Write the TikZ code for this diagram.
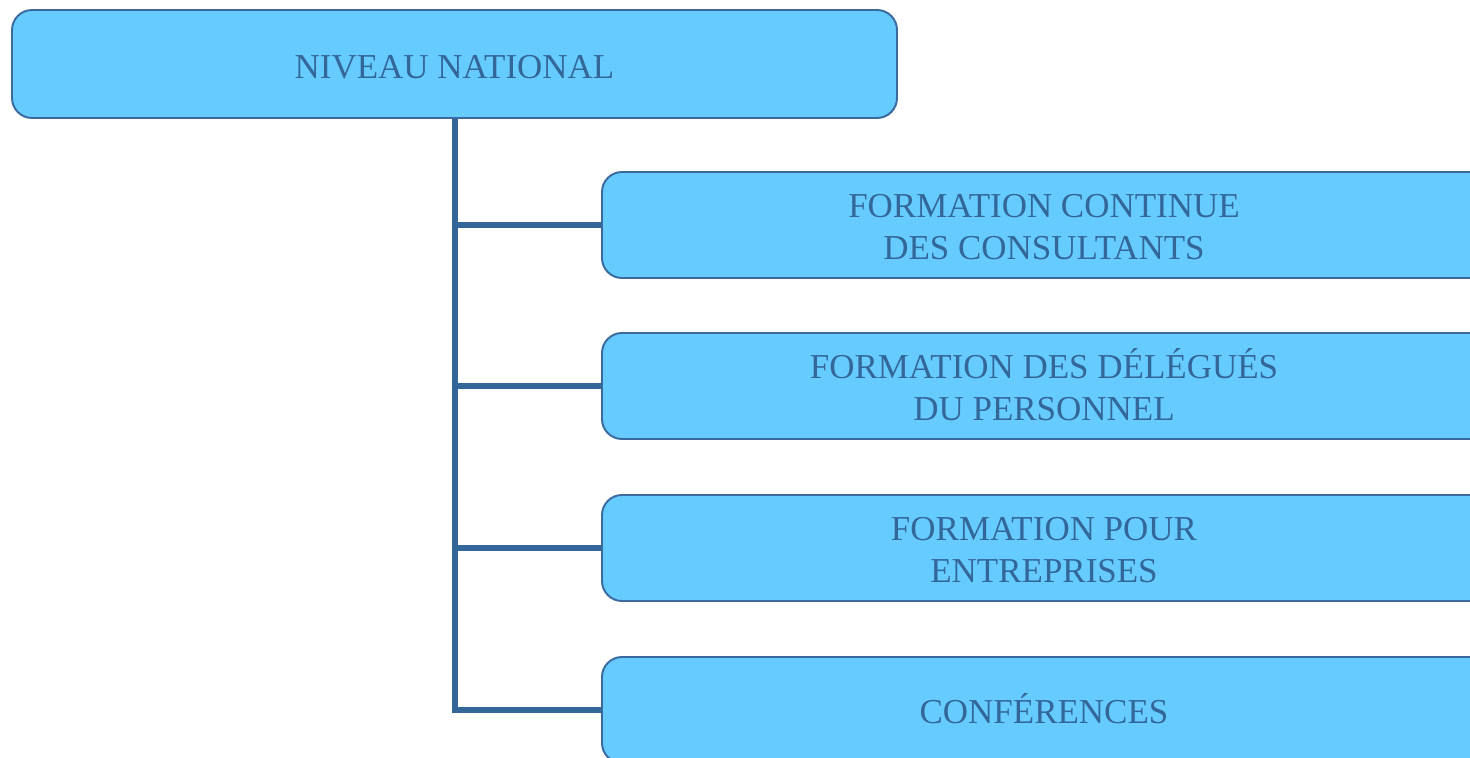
\documentclass[tikz,border=0pt]{standalone}
\usepackage{fontspec}
\setmainfont{Liberation Serif}
\usepackage{tikz}
\usetikzlibrary{calc,positioning}
\definecolor{boxfill}{HTML}{66CCFF}
\definecolor{boxline}{HTML}{3A6A9E}
\definecolor{trunk}{HTML}{336699}
\newcommand{\lignes}[1]{\raisebox{-2.9pt}[\height][\depth]{\begin{tabular}{@{}c@{}}#1\end{tabular}}\hspace*{0.42cm}}

\begin{document}
\begin{tikzpicture}[
    niveau/.style={draw=boxline, line width=1.1pt, fill=boxfill, rounded corners=0.4cm,
        text=trunk, inner sep=0pt,
        font=\fontsize{19.9}{23.8}\selectfont},
    branche/.style={draw=trunk, line width=3.4pt}
    ]
        \useasboundingbox (0,0) rectangle (29.4,-15.16);
        \node[niveau, minimum width=17.7cm, minimum height=2.16cm,
            text height=16.4pt, text depth=0pt] (nat) at (9.09,-1.28) {NIVEAU NATIONAL};
        \node[niveau, minimum width=18.1cm, minimum height=2.12cm] (cons) at (21.09,-4.5)
            {\lignes{FORMATION CONTINUE\\ DES CONSULTANTS}};
        \node[niveau, minimum width=18.1cm, minimum height=2.12cm] (deleg) at (21.09,-7.72)
            {\lignes{FORMATION DES DÉLÉGUÉS\\ DU PERSONNEL}};
        \node[niveau, minimum width=18.1cm, minimum height=2.12cm] (entr) at (21.09,-10.96)
            {\lignes{FORMATION POUR\\ ENTREPRISES}};
        \node[niveau, minimum width=18.1cm, minimum height=2.12cm] (conf) at (21.09,-14.2)
            {\lignes{CONFÉRENCES}};
        \coordinate (tronc) at ($(nat.south)+(0.01,0)$);
        \draw[branche] (tronc) |- (conf.west);
        \foreach \n in {cons,deleg,entr}
        \draw[branche] (tronc |- \n.west) -- (\n.west);
    \end{tikzpicture}
\end{document}
